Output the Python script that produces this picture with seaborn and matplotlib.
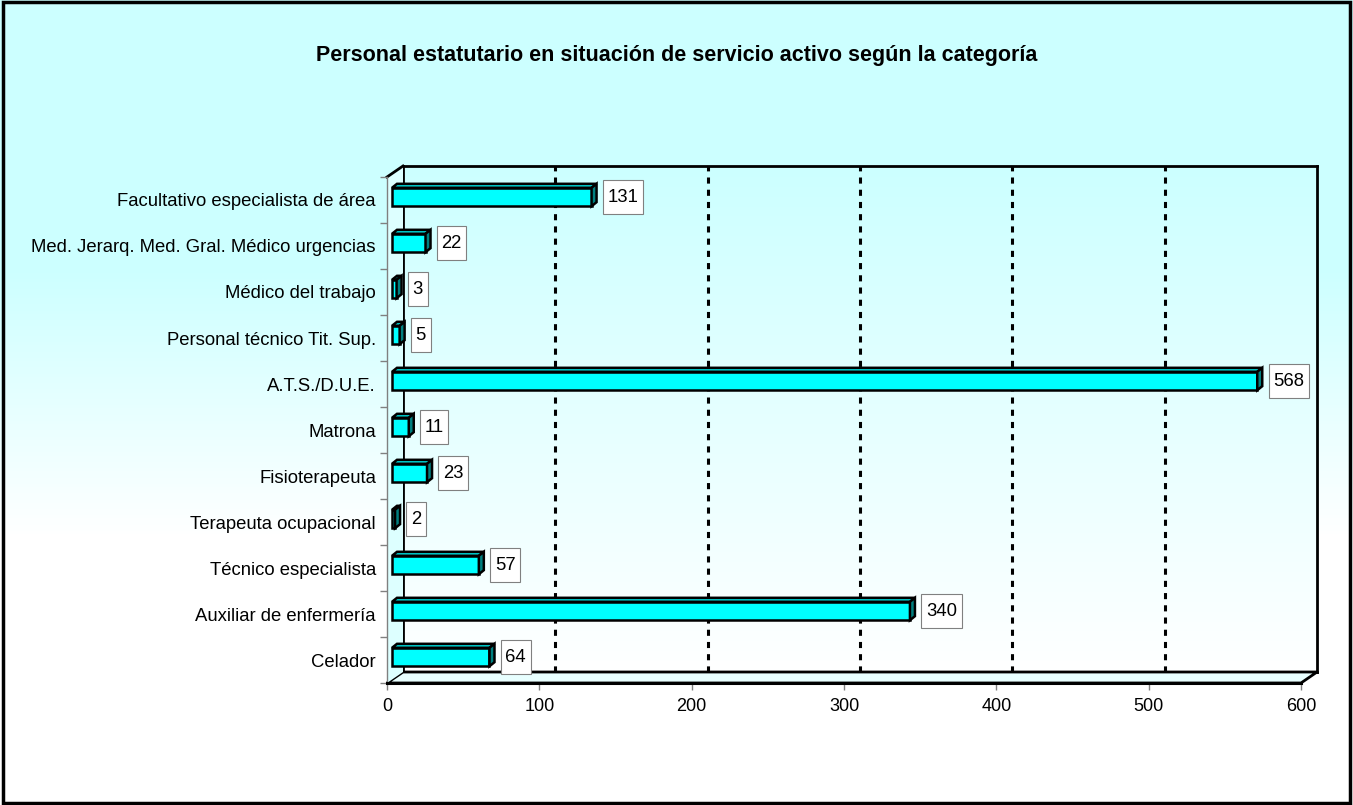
import numpy as np
import matplotlib
matplotlib.use("Agg")
import matplotlib.pyplot as plt
import matplotlib.transforms as mtransforms
from matplotlib.colors import LinearSegmentedColormap
from matplotlib.patches import Polygon, Rectangle
from matplotlib.lines import Line2D
from matplotlib.path import Path
import seaborn as sns

# Data
categories = ['Facultativo especialista de área',
              'Med. Jerarq. Med. Gral. Médico urgencias',
              'Médico del trabajo',
              'Personal técnico Tit. Sup.',
              'A.T.S./D.U.E.',
              'Matrona',
              'Fisioterapeuta',
              'Terapeuta ocupacional',
              'Técnico especialista',
              'Auxiliar de enfermería',
              'Celador']
values = [131, 22, 3, 5, 568, 11, 23, 2, 57, 340, 64]
x_ticks = [0, 100, 200, 300, 400, 500, 600]
title = 'Personal estatutario en situación de servicio activo según la categoría'

plt.rcParams['font.family'] = ['Liberation Sans', 'DejaVu Sans']

W, H = 1353, 805
fig = plt.figure(figsize=(W / 100, H / 100), dpi=100)


def fpt(x, y):
    # pixel position -> figure fraction
    return (x / W, 1 - y / H)


def tall_box(x0, y0, width, height, mutation_size):
    # label box: little padding at the sides, more above and below
    px, py = 0.25 * mutation_size, 0.45 * mutation_size
    x0, y0 = x0 - px, y0 - py
    x1, y1 = x0 + width + 2 * px, y0 + height + 2 * py
    return Path([(x0, y0), (x1, y0), (x1, y1), (x0, y1), (x0, y0)], closed=True)


# chart area background gradient
cyan_white = LinearSegmentedColormap.from_list('cw', ['#CCFFFF', '#CCFFFF', '#FFFFFF', '#FFFFFF'])
grad = np.linspace(0, 1, 256).reshape(-1, 1)
bg = fig.add_axes([0, 0, 1, 1], zorder=-3)
bg.imshow(grad, aspect='auto', cmap=cyan_white, extent=[0, 1, 0, 1])
bg.axis('off')

# plot area geometry (front plane), depth offset of the back wall
left, right, top, bottom = 387, 1301, 177, 683
depth_x, depth_y = 16, 11

# back wall with gridlines
wall = fig.add_axes([(left + depth_x) / W, (H - bottom + depth_y) / H,
                     (right - left) / W, (bottom - top) / H], zorder=-2)
wall_cmap = LinearSegmentedColormap.from_list('wall', ['#CCFFFF', '#FFFFFF'])
wall.imshow(grad, aspect='auto', cmap=wall_cmap, extent=[0, 600, 0, 1])
wall.set_xlim(0, 600)
wall.set_ylim(0, 1)
for t in x_ticks[1:-1]:
    wall.axvline(t, color='black', lw=2.2, linestyle=(0, (2, 2)))
wall.set_xticks([])
wall.set_yticks([])
for s in wall.spines.values():
    s.set_color('black')
    s.set_linewidth(2)

# floor and side wall
floor = Polygon([fpt(left, bottom), fpt(right, bottom),
                 fpt(right + depth_x, bottom - depth_y), fpt(left + depth_x, bottom - depth_y)],
                closed=True, transform=fig.transFigure, facecolor='#E8FFFF',
                edgecolor='black', lw=2, zorder=-1)
side = Polygon([fpt(left, top), fpt(left + depth_x, top - depth_y),
                fpt(left + depth_x, bottom - depth_y), fpt(left, bottom)],
               closed=True, transform=fig.transFigure, facecolor='#DDFFFF',
               edgecolor='none', zorder=-1)
fig.patches.extend([floor, side])
fig.lines.append(Line2D([left / W, (left + depth_x) / W],
                        [1 - top / H, 1 - (top - depth_y) / H],
                        transform=fig.transFigure, color='black', lw=2, zorder=-0.5))

# front axes with the bars
ax = fig.add_axes([left / W, (H - bottom) / H, (right - left) / W, (bottom - top) / H])
ax.set_facecolor('none')
sns.barplot(x=values, y=categories, orient='h', color='#00FFFF', saturation=1,
            edgecolor='black', linewidth=1.8, width=0.4, ax=ax)
ax.set_xlim(0, 600)
ax.set_ylim(10.5, -0.5)

# bars sit a little inside the depth
bar_shift = mtransforms.ScaledTranslation(5 / 100, 3 / 100, fig.dpi_scale_trans)
bar_tr = ax.transData + bar_shift
p0 = ax.transData.transform((0, 0))
p1 = ax.transData.transform((1, 1))
ddx = 5 / (p1[0] - p0[0])
ddy = 4 / (p1[1] - p0[1])

for i, patch in enumerate(list(ax.patches)):
    patch.set_transform(bar_tr)
    x0, y0 = patch.get_x(), patch.get_y()
    w, h = patch.get_width(), patch.get_height()
    top_face = Polygon([(x0, y0), (x0 + w, y0), (x0 + w + ddx, y0 + ddy), (x0 + ddx, y0 + ddy)],
                       closed=True, facecolor='#00CCCC', edgecolor='black', lw=1.8,
                       transform=bar_tr)
    side_face = Polygon([(x0 + w, y0), (x0 + w + ddx, y0 + ddy),
                         (x0 + w + ddx, y0 + h + ddy), (x0 + w, y0 + h)],
                        closed=True, facecolor='#008080', edgecolor='black', lw=1.8,
                        transform=bar_tr)
    ax.add_patch(top_face)
    ax.add_patch(side_face)

for i, v in enumerate(values):
    ax.annotate(str(v), xy=(v, i), xytext=(21, 3), textcoords='offset pixels',
                ha='left', va='center', fontsize=13.3,
                bbox=dict(boxstyle=tall_box, fc='white', ec='#808080', lw=0.8))

# axes styling
for s in ['top', 'right']:
    ax.spines[s].set_visible(False)
ax.spines['left'].set_color('#808080')
ax.spines['left'].set_linewidth(1)
ax.spines['bottom'].set_color('black')
ax.spines['bottom'].set_linewidth(2.2)
ax.set_xticks(x_ticks)
ax.set_xticklabels([str(t) for t in x_ticks], fontsize=13)
ax.tick_params(axis='x', length=5, width=1, color='#808080', pad=6)
ax.set_yticks(range(len(categories)))
ax.set_yticklabels(categories, fontsize=13.3)
ax.tick_params(axis='y', which='major', length=0, pad=8)
ax.set_yticks(np.arange(-0.5, len(categories), 1), minor=True)
ax.tick_params(axis='y', which='minor', length=5, width=1, color='#808080')
ax.set_xlabel('')
ax.set_ylabel('')

fig.text(0.5, 1 - 55 / H, title, ha='center', va='center', fontsize=15.5, fontweight='bold')

# outer frame
fig.patches.append(Rectangle((0.002, 0.003), 0.996, 0.994, transform=fig.transFigure,
                             fill=False, edgecolor='black', lw=2.5, zorder=5))

fig.savefig('out.png', dpi=100)
